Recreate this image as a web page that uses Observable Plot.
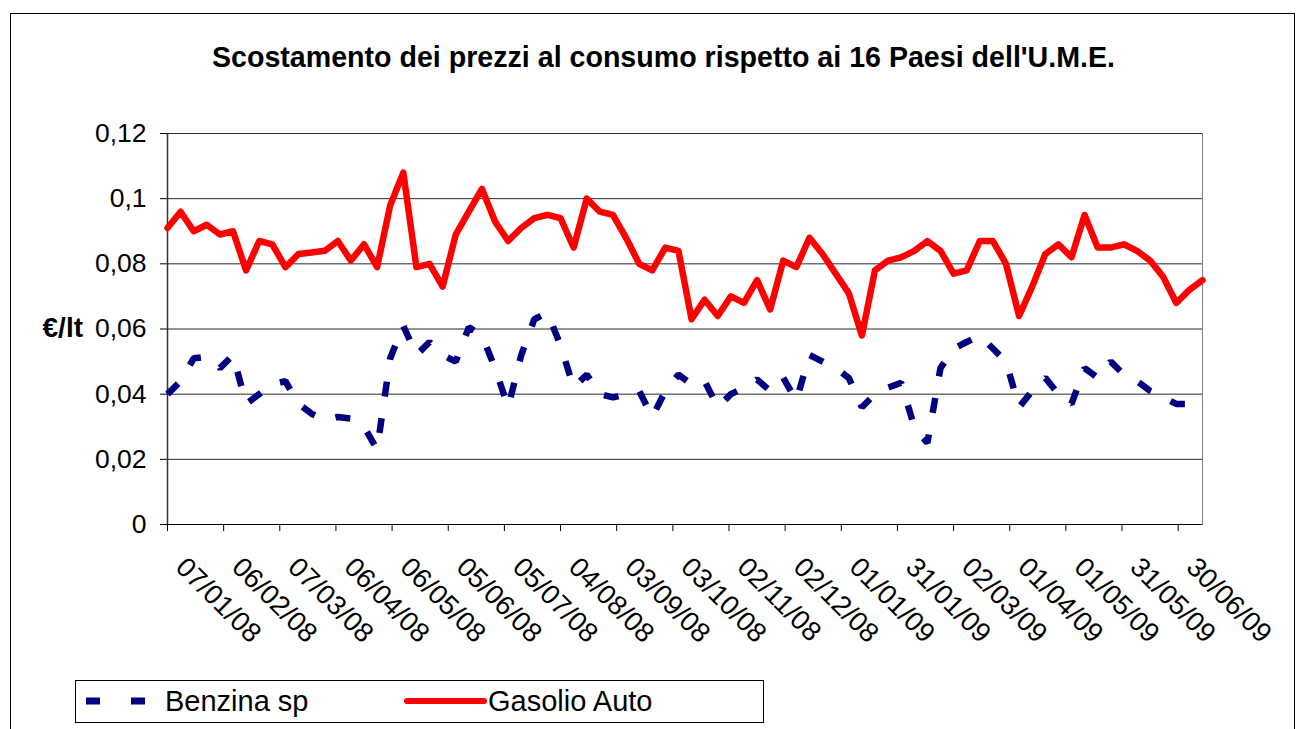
<!DOCTYPE html>
<html><head><meta charset="utf-8">
<script src="https://cdn.jsdelivr.net/npm/d3@7"></script>
<script src="https://cdn.jsdelivr.net/npm/@observablehq/plot@0.6"></script>
<style>
body{margin:0;background:#fff;font-family:Arial,"Liberation Sans",sans-serif;}
#wrap{position:relative;width:1305px;height:729px;overflow:hidden;background:#fff;}
#border{position:absolute;left:10px;top:13px;width:1285px;height:800px;border:1px solid #000;box-sizing:border-box;}
#chart{position:absolute;left:0;top:0;}
#title{position:absolute;left:0;top:43px;width:1327px;text-align:center;font-weight:bold;font-size:28.6px;line-height:28px;white-space:nowrap;}
#ylab{position:absolute;right:1222px;top:314px;font-weight:bold;font-size:28px;line-height:28px;white-space:nowrap;}
#legend{position:absolute;left:75px;top:680px;}
</style></head><body>
<div id="wrap">
  <div id="border"></div>
  <div id="chart"></div>
  <div id="title">Scostamento dei prezzi al consumo rispetto ai 16 Paesi dell'U.M.E.</div>
  <div id="ylab">€/lt</div>
  <div id="legend"></div>
</div>
<script>
// ---- data ----
const firstWeek = "07/01/08";       // weekly observations, Monday
const seriesNames = ["Benzina sp", "Gasolio Auto"];
const benzina = [
  0.040, 0.044, 0.051, 0.0515, 0.048, 0.052, 0.037, 0.040, 0.043, 0.044,
  0.037, 0.034, 0.032, 0.033, 0.0325, 0.030, 0.023, 0.051, 0.061, 0.052,
  0.056, 0.052, 0.050, 0.0605, 0.058, 0.048, 0.036, 0.052, 0.063, 0.065,
  0.055, 0.042, 0.046, 0.040, 0.039, 0.040, 0.041, 0.033, 0.041, 0.046,
  0.043, 0.044, 0.036, 0.040, 0.042, 0.0445, 0.041, 0.045, 0.038, 0.052,
  0.050, 0.048, 0.045, 0.036, 0.040, 0.042, 0.0435, 0.030, 0.025, 0.048,
  0.054, 0.056, 0.058, 0.054, 0.050, 0.036, 0.041, 0.045, 0.040, 0.037,
  0.048, 0.045, 0.050, 0.046, 0.044, 0.041, 0.039, 0.037, 0.037, 0.037
];
const gasolio = [
  0.091, 0.096, 0.090, 0.092, 0.089, 0.090, 0.078, 0.087, 0.086, 0.079,
  0.083, 0.0835, 0.084, 0.087, 0.081, 0.086, 0.079, 0.098, 0.108, 0.079,
  0.080, 0.073, 0.089, 0.096, 0.103, 0.093, 0.087, 0.091, 0.094, 0.095,
  0.094, 0.085, 0.100, 0.096, 0.095, 0.088, 0.080, 0.078, 0.085, 0.084,
  0.063, 0.069, 0.064, 0.070, 0.068, 0.075, 0.066, 0.081, 0.079, 0.088,
  0.083, 0.077, 0.071, 0.058, 0.078, 0.081, 0.082, 0.084, 0.087, 0.084,
  0.077, 0.078, 0.087, 0.087, 0.080, 0.064, 0.073, 0.083, 0.086, 0.082,
  0.095, 0.085, 0.085, 0.086, 0.084, 0.081, 0.076, 0.068, 0.072, 0.075
];
const xTickLabels = ["07/01/08","06/02/08","07/03/08","06/04/08","06/05/08","05/06/08","05/07/08",
  "04/08/08","03/09/08","03/10/08","02/11/08","02/12/08","01/01/09","31/01/09","02/03/09",
  "01/04/09","01/05/09","31/05/09","30/06/09"];
const yTicks = [0, 0.02, 0.04, 0.06, 0.08, 0.10, 0.12];
const yTickLabels = ["0","0,02","0,04","0,06","0,08","0,1","0,12"];
const yLabel = "€/lt";

// ---- build ----
const parse = d3.utcParse("%d/%m/%y");
const start = parse(firstWeek);
const rows = gasolio.map((g, i) => ({date: d3.utcDay.offset(start, 7 * i), benzina: benzina[i], gasolio: g}));
const xTickDates = xTickLabels.map(parse);
const ff = "Arial, 'Liberation Sans', sans-serif";
document.getElementById("ylab").textContent = yLabel;

const chart = Plot.plot({
  width: 1305, height: 729,
  marginLeft: 167, marginRight: 103, marginTop: 133, marginBottom: 205,
  style: {fontFamily: ff, color: "#000", background: "transparent", overflow: "visible"},
  x: {type: "utc", domain: [rows[0].date, rows[rows.length - 1].date], axis: null},
  y: {domain: [0, 0.12], axis: null},
  marks: [
    Plot.frame({stroke: "#808080"}),
    Plot.gridY(yTicks, {stroke: "#2a2a2a", strokeOpacity: 1}),
    Plot.axisY(yTicks, {tickFormat: (d, i) => yTickLabels[i], tickSize: 7, tickPadding: 14, fontSize: 26.5, stroke: "#000", strokeOpacity: 1}),
    Plot.ruleX([rows[0].date], {stroke: "#333", strokeWidth: 1.5}),
    Plot.ruleY([0], {stroke: "#000"}),
    Plot.axisX(xTickDates, {tickSize: 7, tickFormat: () => "", stroke: "#000", strokeOpacity: 1}),
    Plot.text(xTickDates, {x: d => d, frameAnchor: "bottom", text: (d, i) => xTickLabels[i],
      rotate: 45, textAnchor: "start", lineAnchor: "middle", dx: 13, dy: 38, fontSize: 27.5, fill: "#000"}),
    Plot.line(rows, {x: "date", y: "benzina", stroke: "#000080", strokeWidth: 6.5,
      strokeDasharray: "15,22", strokeLinecap: "butt", strokeLinejoin: "miter"}),
    Plot.line(rows, {x: "date", y: "gasolio", stroke: "#ff0000", strokeWidth: 6.5,
      strokeLinejoin: "round", strokeLinecap: "round"})
  ]
});
document.getElementById("chart").appendChild(chart);

// legend
const lg = d3.select("#legend").append("svg").attr("width", 690).attr("height", 44)
  .style("font-family", ff);
lg.append("rect").attr("x", 0.5).attr("y", 0.5).attr("width", 688).attr("height", 42)
  .attr("fill", "#fff").attr("stroke", "#000");
lg.append("line").attr("x1", 11).attr("x2", 71).attr("y1", 21).attr("y2", 21)
  .attr("stroke", "#000080").attr("stroke-width", 7).attr("stroke-dasharray", "14,31");
lg.append("text").attr("x", 90).attr("y", 31).attr("font-size", 29).text(seriesNames[0]);
lg.append("line").attr("x1", 332).attr("x2", 409).attr("y1", 21).attr("y2", 21)
  .attr("stroke", "#ff0000").attr("stroke-width", 6).attr("stroke-linecap", "round");
lg.append("text").attr("x", 413).attr("y", 31).attr("font-size", 29).text(seriesNames[1]);
</script>
</body></html>
